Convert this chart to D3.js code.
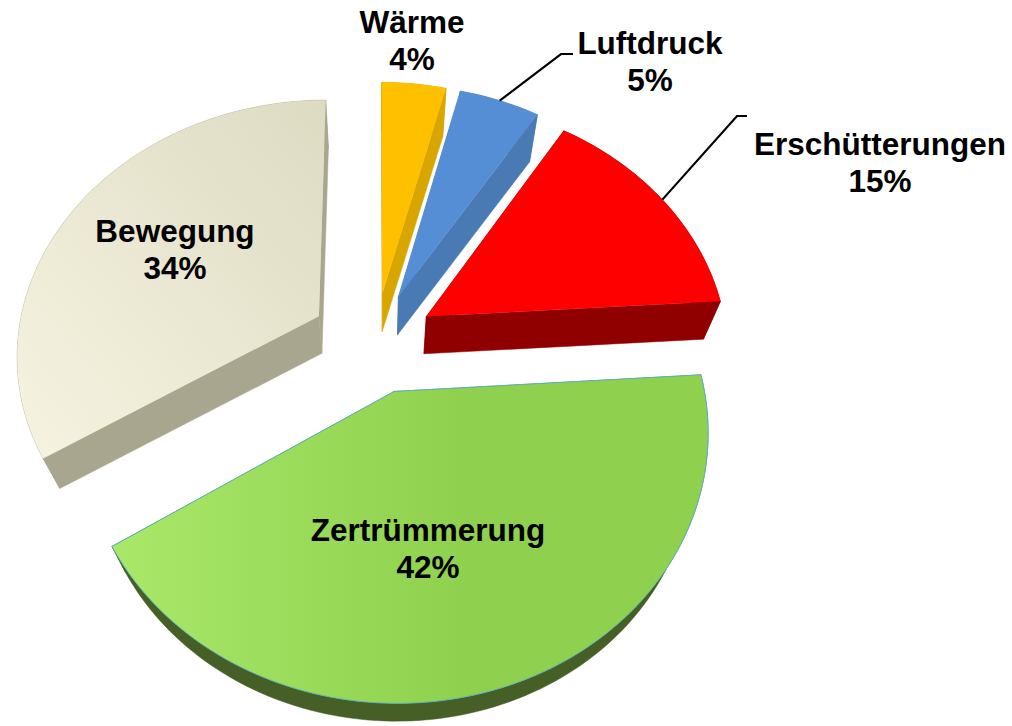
<!DOCTYPE html>
<html>
<head>
<meta charset="utf-8">
<script src="https://d3js.org/d3.v7.min.js"></script>
<style>
  body { margin: 0; background: #fff; }
  text { font-family: "Liberation Sans", Arial, sans-serif; font-weight: bold; font-size: 31.5px; fill: #000; text-anchor: middle; }
</style>
</head>
<body>
<div id="chart"></div>
<script>
// chart data
var categories = ["Wärme", "Luftdruck", "Erschütterungen", "Zertrümmerung", "Bewegung"];
var values = [4, 5, 15, 42, 34];

// top face colours [from, to] and wall colour
var topColors = [["#ffc000", "#ffc000"], ["#558ed5", "#558ed5"], ["#ff0000", "#ff0000"], ["#a9e868", "#8fd04f"], ["#f6f3e1", "#dedbc3"]];
var wallColors = ["#d9a600", "#4a7ab3", "#900000", "#455f26", "#a9a68f"];

var width = 1012, height = 726;

// perspective of the pie plane
var cx = 375, cy = 342, rx = 302, ry = 253, k = 0.14;
var explode = [0.2, 0.2, 0.2, 0.2, 0.215];
// the lower plane of the pie shrinks towards this point
var vanish = [380, 1060], shrink = 0.95;

var labelPos = [[412, 33], [650, 54], [880, 155], [428, 541], [175, 242]];
var lineGap = 37;
var leaderElbows = { 1: [[561, 54], [573, 54]], 2: [[737, 116], [747, 116]] };

var svg = d3.select("#chart").append("svg")
    .attr("width", width)
    .attr("height", height);

var defs = svg.append("defs");

var pie = d3.pie().sort(null).value(function (d) { return d; });
var arcs = pie(values);

function toScreen(X, Z) {
    var s = 1 / (1 + k * Z);
    return [cx + rx * X * s, cy - ry * Z * s];
}
function project(d, a) {
    var mid = (d.startAngle + d.endAngle) / 2;
    var e = explode[d.index];
    return toScreen(e * Math.sin(mid) + Math.sin(a), e * Math.cos(mid) + Math.cos(a));
}
function apex(d) {
    var mid = (d.startAngle + d.endAngle) / 2;
    var e = explode[d.index];
    return toScreen(e * Math.sin(mid), e * Math.cos(mid));
}
function lower(p) {
    return [vanish[0] + (p[0] - vanish[0]) * shrink, vanish[1] + (p[1] - vanish[1]) * shrink];
}
function rim(d) {
    var n = Math.ceil((d.endAngle - d.startAngle) * 40);
    return d3.range(n + 1).map(function (i) {
        return project(d, d.startAngle + (d.endAngle - d.startAngle) * i / n);
    });
}

var line = d3.line();
var order = [0, 1, 2, 4, 3];

order.forEach(function (i) {
    var d = arcs[i];
    var edge = rim(d);
    var tip = apex(d);
    var first = edge[0], last = edge[edge.length - 1];
    var g = svg.append("g").attr("class", "slice");

    // walls: the two cuts and the outer rim
    var walls = [
        [tip, first, lower(first), lower(tip)],
        [tip, last, lower(last), lower(tip)],
        edge.concat(edge.map(lower).reverse())
    ];
    walls.forEach(function (w) {
        g.append("path")
            .attr("d", line(w) + "Z")
            .attr("fill", wallColors[i])
            .attr("stroke", wallColors[i])
            .attr("stroke-width", 0.5);
    });

    var grad = defs.append("linearGradient")
        .attr("id", "top" + i);
    if (i == 4) {
        grad.attr("x1", 0).attr("y1", 1).attr("x2", 1).attr("y2", 0);
    }
    grad.append("stop").attr("offset", "0%").attr("stop-color", topColors[i][0]);
    grad.append("stop").attr("offset", i == 3 ? "60%" : "100%").attr("stop-color", topColors[i][1]);

    g.append("path")
        .attr("d", line([tip].concat(edge)) + "Z")
        .attr("fill", "url(#top" + i + ")")
        .attr("stroke", i == 3 ? "#5fb4b8" : "none")
        .attr("stroke-width", 1);
});

// leader lines
Object.keys(leaderElbows).forEach(function (i) {
    var d = arcs[i];
    var start = project(d, (d.startAngle + d.endAngle) / 2);
    svg.append("path")
        .attr("d", line([start].concat(leaderElbows[i])))
        .attr("fill", "none")
        .attr("stroke", "#000")
        .attr("stroke-width", 2.2);
});

// labels
var total = d3.sum(values);
categories.forEach(function (c, i) {
    var t = svg.append("text")
        .attr("x", labelPos[i][0])
        .attr("y", labelPos[i][1]);
    t.append("tspan").text(c);
    t.append("tspan")
        .attr("x", labelPos[i][0])
        .attr("dy", lineGap)
        .text(d3.format(".0%")(values[i] / total));
});
</script>
</body>
</html>
